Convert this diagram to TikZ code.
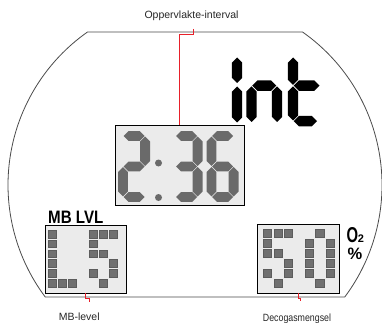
\documentclass[tikz,border=0pt]{standalone}
\usepackage{fontspec}
\setmainfont{Liberation Sans}
\usetikzlibrary{calc}
\definecolor{lcdbg}{HTML}{EBEBEB}
\definecolor{seggray}{HTML}{6A6A6A}
\definecolor{pxgray}{HTML}{707070}
\definecolor{pxedge}{HTML}{5C5C5C}
\definecolor{outl}{HTML}{4A4A4A}
\definecolor{conred}{HTML}{E8202A}
% vertical hexagon segment: x, ya, yb, half thickness
\newcommand\vsg[4]{\path[seg] (#1,#2) -- ({#1+#4},{#2+#4}) -- ({#1+#4},{#3-#4}) -- (#1,#3) -- ({#1-#4},{#3-#4}) -- ({#1-#4},{#2+#4}) -- cycle;}
% horizontal hexagon segment: y, xa, xb, half thickness
\newcommand\hsg[4]{\path[seg] (#2,#1) -- ({#2+#4},{#1-#4}) -- ({#3-#4},{#1-#4}) -- (#3,#1) -- ({#3-#4},{#1+#4}) -- ({#2+#4},{#1+#4}) -- cycle;}
\newcommand\setdig[1]{\pgfmathsetmacro\xl{#1+\dh}\pgfmathsetmacro\xr{#1+\dW-\dh}}
\newcommand\sA{\hsg{\yt}{\xl+\gp}{\xr-\gp}{\dh}}
\newcommand\sB{\vsg{\xr}{\yt+\gp}{\ym-\gp}{\dh}}
\newcommand\sC{\vsg{\xr}{\ym+\gp}{\yb-\gp}{\dh}}
\newcommand\sD{\hsg{\yb}{\xl+\gp}{\xr-\gp}{\dh}}
\newcommand\sE{\vsg{\xl}{\ym+\gp}{\yb-\gp}{\dh}}
\newcommand\sF{\vsg{\xl}{\yt+\gp}{\ym-\gp}{\dh}}
\newcommand\sG{\hsg{\ym}{\xl+\gp}{\xr-\gp}{\dh}}
% pixel cells: x0, y0, dx, dy, w, list col/row
\newcommand\pxcells[6]{\foreach \c/\r in {#6} {\path[px] ({#1+#3*\c},{#2+#4*\r}) rectangle ++(#5,7.8);}}
\begin{document}
\begin{tikzpicture}[x=1pt,y=-1pt,
  lbl/.style={inner sep=0pt, font=\fontsize{10.5}{12}\selectfont, text=black!85},
  lcdbox/.style={draw=black, fill=lcdbg, line width=0.9pt, inner sep=0pt},
  outline/.style={draw=outl, line width=0.8pt},
  conn/.style={draw=conred, line width=0.8pt},
  px/.style={fill=pxgray, draw=pxedge, line width=0.4pt},
  seg/.style={fill=seggray}]
\useasboundingbox (0,0) rectangle (382,323);
% outline
\coordinate (C) at (195,185);
\path (C) ++(-54.9:187) coordinate (tr);
\path (C) ++(36.8:187) coordinate (br);
\path (C) ++(143.2:187) coordinate (bl);
\path (C) ++(234.9:187) coordinate (tl);
\draw[outline] (tl) -- (tr) arc[start angle=-54.9, end angle=36.8, radius=187] -- (bl) arc[start angle=143.2, end angle=234.9, radius=187] -- cycle;
% boxes
\node[lcdbox, minimum width=129, minimum height=80] (timebox) at (179.5,165) {};
\node[lcdbox, minimum width=81, minimum height=68] (mbbox) at (85.5,259) {};
\node[lcdbox, minimum width=82, minimum height=69] (o2box) at (298,258.5) {};
% 2:36
\def\dh{4.9}\def\dW{32}\def\gp{0.6}
\def\yt{136}\def\yb{197}\def\ym{166.5}
\setdig{118}\sA\sB\sG\sE\sD
\setdig{170.5}\sA\sB\sG\sC\sD
\setdig{206.5}\sA\sF\sG\sE\sC\sD
\fill[seggray] (158.5,163) circle[radius=3.5];
\fill[seggray] (158.5,197.5) circle[radius=3.5];
% int
\begin{scope}[seg/.style={fill=black}]
\vsg{237}{57.5}{83}{5.2}
\vsg{237}{86.5}{122.5}{5.2}
\vsg{251.5}{86.3}{122}{5.2}
\hsg{85.6}{252.2}{276.3}{5.2}
\vsg{277}{86.3}{122}{5.2}
\vsg{293}{57.5}{84.8}{5.2}
\vsg{293}{86.3}{120.5}{5.2}
\hsg{85.6}{293.7}{319.5}{5.2}
\hsg{121.2}{293.7}{317}{5.2}
\end{scope}
% pixel digits
\pxcells{48.3}{230}{10}{9.87}{8}{0/0,0/1,0/2,0/3,0/4,0/5,1/5,2/5}
\pxcells{89.3}{230}{10}{9.87}{8}{0/0,1/0,2/0,0/1,0/2,1/2,2/3,0/4,2/4,1/5}
\pxcells{263.3}{229.3}{10.5}{10}{8.3}{0/0,1/0,2/0,0/1,0/2,1/2,2/3,0/4,2/4,1/5}
\pxcells{305}{229.3}{10.5}{10}{8.3}{1/0,0/1,2/1,0/2,2/2,0/3,2/3,0/4,2/4,1/5}
% texts
\node[inner sep=0pt, anchor=base west] (mblvl) at (48,223) {\fontsize{18}{18}\selectfont\bfseries\scalebox{0.84}[1]{MB LVL}};
\node[inner sep=0pt, anchor=base west, text depth=0pt] (oxy) at (346.5,242.3) {\fontsize{21.5}{21.5}\selectfont\bfseries\scalebox{0.69}[1]{O}};
\node[inner sep=0pt, anchor=base west, text depth=0pt] (two) at (357.6,242.8) {\fontsize{11}{11}\selectfont\bfseries 2};
\node[inner sep=0pt, anchor=base west, text height=12pt, text depth=0pt] (pct) at (347.5,259.3) {\fontsize{16.5}{16.5}\selectfont\bfseries\%};
\node[lbl, anchor=base] (toplbl) at (191.5,18.3) {Oppervlakte-interval};
\node[lbl, anchor=base] (mblbl) at (79.2,320.7) {MB-level};
\node[lbl, anchor=base] (o2lbl) at (297,321) {\scalebox{0.84}[1]{Decogasmengsel}};
% connectors
\coordinate (tstart) at (193.3,29);
\draw[conn] (tstart) -- ++(0,5.5) -| (timebox.north);
\coordinate (mbend) at (89,301.5);
\draw[conn] (mbbox.south) -- ++(0,5) -| (mbend);
\coordinate (o2end) at (300.5,301);
\draw[conn] (o2box.south) -- ++(0,4.5) -| (o2end);
\end{tikzpicture}
\end{document}
